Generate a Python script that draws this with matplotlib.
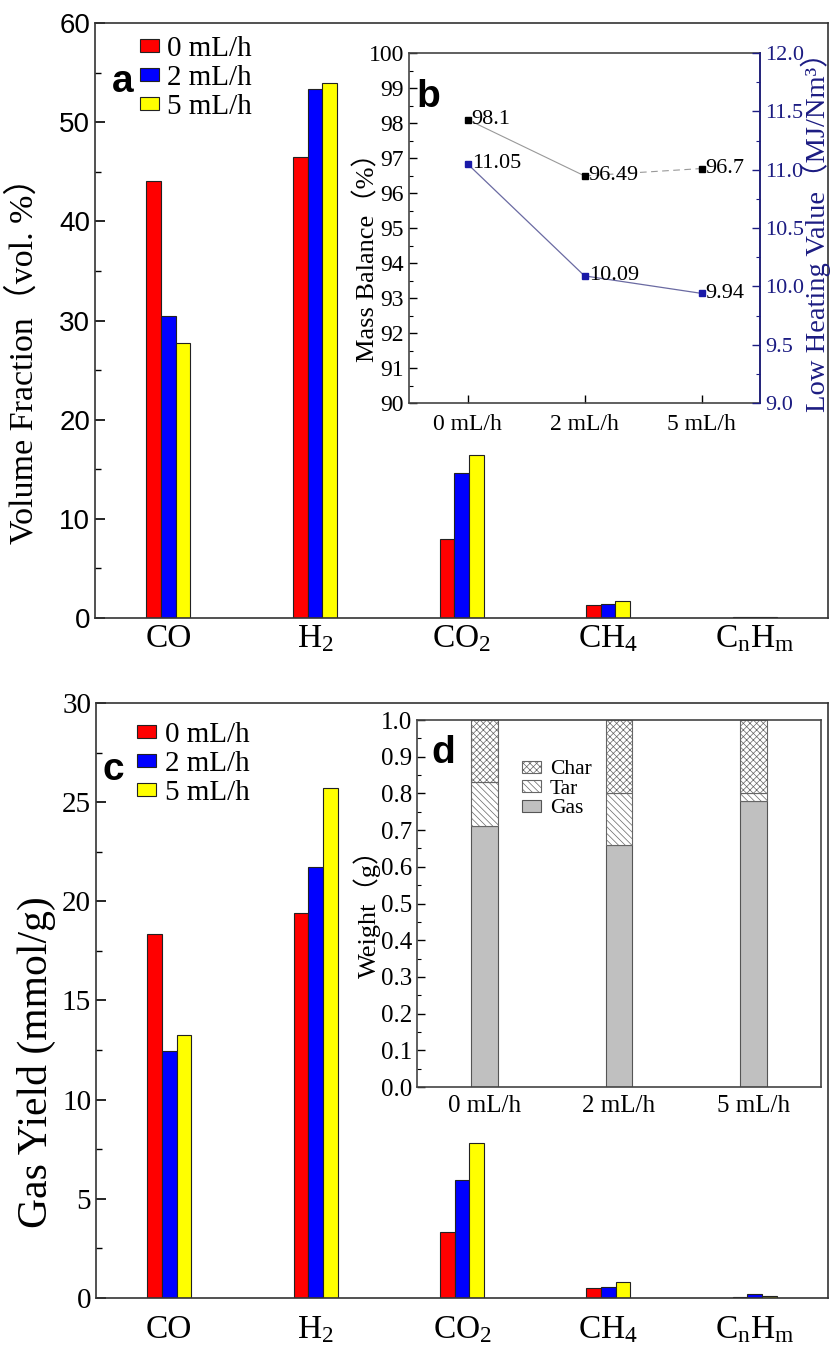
import numpy as np
import matplotlib
matplotlib.use("Agg")
import matplotlib.pyplot as plt
from matplotlib.ticker import MultipleLocator

plt.rcParams["mathtext.fontset"] = "custom"
plt.rcParams["mathtext.rm"] = "Liberation Serif"
plt.rcParams["mathtext.it"] = "Liberation Serif:italic"
plt.rcParams["hatch.linewidth"] = 0.5

SERIF = ["Liberation Serif", "Noto Sans CJK SC"]
SANS = ["Liberation Sans", "DejaVu Sans"]
NAVY = "#1c1c82"

# gas names and steam rates
gases = ["CO", "H$_2$", "CO$_2$", "CH$_4$", "C$_\\mathrm{n}$H$_\\mathrm{m}$"]
rates = ["0 mL/h", "2 mL/h", "5 mL/h"]
bar_colors = ["#ff0000", "#0000ff", "#ffff00"]

# (a) volume fraction, vol. %
vol_0 = [44.1, 46.5, 8.0, 1.3, 0.08]
vol_2 = [30.5, 53.3, 14.6, 1.4, 0.08]
vol_5 = [27.7, 53.9, 16.4, 1.7, 0.15]

# (b) mass balance (%) and low heating value (MJ/Nm3)
mass_balance = [98.1, 96.49, 96.7]
lhv = [11.05, 10.09, 9.94]

# (c) gas yield, mmol/g
yield_0 = [18.36, 19.4, 3.33, 0.52, 0.03]
yield_2 = [12.45, 21.75, 5.95, 0.55, 0.2]
yield_5 = [13.25, 25.73, 7.83, 0.81, 0.08]

# (d) product weights, g
gas_w = [0.71, 0.66, 0.78]
tar_w = [0.12, 0.14, 0.02]
char_w = [0.17, 0.20, 0.20]


def style_axes(ax, color="#333333"):
    for s in ax.spines.values():
        s.set_color(color)
        s.set_linewidth(1.2)


def gas_bars(ax, series):
    x = np.arange(len(gases))
    for k, vals in enumerate(series):
        ax.bar(x + (k - 1) * 0.1, vals, 0.1, color=bar_colors[k],
               edgecolor="#222222", linewidth=0.8, label=rates[k])
    ax.set_xlim(-0.5, 4.5)
    ax.set_xticks(x)
    ax.set_xticklabels(gases, family=SERIF, fontsize=24)
    ax.tick_params(axis="x", length=0, pad=4)
    ax.tick_params(axis="y", which="major", direction="in", length=7, width=1.2)
    ax.tick_params(axis="y", which="minor", direction="in", length=4, width=1.0)
    style_axes(ax)
    leg = ax.legend(loc="upper left", frameon=False, fontsize=21, handlelength=0.65,
                    handleheight=0.3, handletextpad=0.3, labelspacing=0.1,
                    borderpad=0, borderaxespad=0)
    for t in leg.get_texts():
        t.set_family(SERIF)
    return leg


fig = plt.figure(figsize=(8.3, 13.53), dpi=100)

# ---- panel a ----
ax_a = fig.add_axes([0.1145, 0.5432, 0.8831, 0.4398])
leg_a = gas_bars(ax_a, [vol_0, vol_2, vol_5])
leg_a.set_bbox_to_anchor((0.061, 0.978), transform=ax_a.transAxes)
ax_a.set_ylim(0, 60)
ax_a.yaxis.set_major_locator(MultipleLocator(10))
ax_a.yaxis.set_minor_locator(MultipleLocator(5))
for t in ax_a.get_yticklabels():
    t.set_family(SANS)
    t.set_fontsize(20)
ax_a.text(-0.097, 0.447, "Volume Fraction（vol. %）", transform=ax_a.transAxes,
          rotation=90, ha="center", va="center", family=SERIF, fontsize=24.5)
ax_a.text(0.038, 0.901, "a", transform=ax_a.transAxes, ha="center", va="center",
          family=SANS, fontsize=28, fontweight="bold")

# ---- panel b (inset) ----
ax_b = fig.add_axes([0.4928, 0.7021, 0.4229, 0.2587])
xb = np.arange(3)
ax_b.plot(xb[:2], mass_balance[:2], color="#999999", lw=0.8)
ax_b.plot(xb[1:], mass_balance[1:], color="#999999", lw=0.8, ls=(0, (6, 4)))
ax_b.plot(xb, mass_balance, ls="none", marker="s", ms=4, color="black")
for i, v in enumerate(mass_balance):
    ax_b.annotate(f"{v:g}", (xb[i], v), xytext=(3, 0), textcoords="offset points",
                  ha="left", va="center", family=SERIF, fontsize=16)
ax_b.set_xlim(-0.5, 2.5)
ax_b.set_ylim(90, 100)
ax_b.set_xticks(xb)
ax_b.set_xticklabels(rates, family=SERIF, fontsize=17)
ax_b.yaxis.set_major_locator(MultipleLocator(1))
ax_b.yaxis.set_minor_locator(MultipleLocator(0.5))
ax_b.tick_params(which="major", direction="in", length=6, width=1.0, labelsize=17)
ax_b.tick_params(which="minor", direction="in", length=3, width=0.8)
ax_b.tick_params(axis="x", pad=8)
for t in ax_b.get_yticklabels():
    t.set_family(SERIF)
style_axes(ax_b, "#444444")
ax_b.text(-0.12, 0.434, "Mass Balance（%）", transform=ax_b.transAxes, rotation=90,
          ha="center", va="center", family=SERIF, fontsize=19)
ax_b.text(0.054, 0.874, "b", transform=ax_b.transAxes, ha="center", va="center",
          family=SANS, fontsize=28, fontweight="bold")

ax_b2 = ax_b.twinx()
ax_b2.plot(xb, lhv, color="#6a6aa2", lw=0.9, marker="s", ms=4,
           mfc="#1a1aa8", mec="#1a1aa8")
for i, v in enumerate(lhv):
    ax_b2.annotate(f"{v:g}", (xb[i], v), xytext=(3, 0), textcoords="offset points",
                   ha="left", va="center", family=SERIF, fontsize=16)
ax_b2.set_ylim(9.0, 12.0)
ax_b2.yaxis.set_major_locator(MultipleLocator(0.5))
ax_b2.yaxis.set_minor_locator(MultipleLocator(0.25))
ax_b2.tick_params(which="major", direction="in", length=6, width=1.0, labelsize=16,
                  colors=NAVY)
ax_b2.tick_params(which="minor", direction="in", length=3, width=0.8, colors=NAVY)
for t in ax_b2.get_yticklabels():
    t.set_family(SERIF)
for s in ["left", "top", "bottom"]:
    ax_b2.spines[s].set_visible(False)
ax_b2.spines["right"].set_color(NAVY)
ax_b2.spines["right"].set_linewidth(1.2)
ax_b2.text(1.16, 0.509, "Low Heating Value（MJ/Nm³）", transform=ax_b2.transAxes,
           rotation=90, ha="center", va="center", family=SERIF, fontsize=20.5, color=NAVY)

# ---- panel c ----
ax_c = fig.add_axes([0.1157, 0.0407, 0.8819, 0.4397])
leg_c = gas_bars(ax_c, [yield_0, yield_2, yield_5])
leg_c.set_bbox_to_anchor((0.056, 0.968), transform=ax_c.transAxes)
ax_c.set_ylim(0, 30)
ax_c.yaxis.set_major_locator(MultipleLocator(5))
ax_c.yaxis.set_minor_locator(MultipleLocator(2.5))
for t in ax_c.get_yticklabels():
    t.set_family(SERIF)
    t.set_fontsize(21)
ax_c.tick_params(axis="x", pad=12)
ax_c.text(-0.082, 0.397, "Gas Yield (mmol/g)", transform=ax_c.transAxes,
          rotation=90, ha="center", va="center", family=SERIF, fontsize=30)
ax_c.text(0.023, 0.887, "c", transform=ax_c.transAxes, ha="center", va="center",
          family=SANS, fontsize=28, fontweight="bold")

# ---- panel d (inset) ----
ax_d = fig.add_axes([0.5024, 0.1966, 0.4867, 0.2712])
xd = np.arange(3)
tar_bottom = np.array(gas_w)
char_bottom = tar_bottom + np.array(tar_w)
b_gas = ax_d.bar(xd, gas_w, 0.2, color="#c0c0c0", edgecolor="#555555", lw=0.8,
                 label="Gas")
b_tar = ax_d.bar(xd, tar_w, 0.2, bottom=tar_bottom, color="white", edgecolor="#666666",
                 hatch="\\\\\\\\\\", lw=0.8, label="Tar")
b_char = ax_d.bar(xd, char_w, 0.2, bottom=char_bottom, color="white",
                  edgecolor="#666666", hatch="xxxxx", lw=0.8, label="Char")
ax_d.set_xlim(-0.5, 2.5)
ax_d.set_ylim(0, 1.0)
ax_d.set_xticks(xd)
ax_d.set_xticklabels(rates, family=SERIF, fontsize=18)
ax_d.tick_params(axis="x", length=0, pad=6)
ax_d.yaxis.set_major_locator(MultipleLocator(0.1))
ax_d.yaxis.set_minor_locator(MultipleLocator(0.05))
ax_d.tick_params(axis="y", which="major", direction="in", length=6, width=1.0, labelsize=18)
ax_d.tick_params(axis="y", which="minor", direction="in", length=3, width=0.8)
for t in ax_d.get_yticklabels():
    t.set_family(SERIF)
style_axes(ax_d, "#444444")
leg_d = ax_d.legend([b_char, b_tar, b_gas], ["Char", "Tar", "Gas"], loc="upper left",
                    bbox_to_anchor=(0.26, 0.89), frameon=False, fontsize=15.5,
                    handlelength=0.9, handleheight=0.5, handletextpad=0.4,
                    labelspacing=0.02, borderpad=0, borderaxespad=0)
for t in leg_d.get_texts():
    t.set_family(SERIF)
ax_d.text(-0.124, 0.49, "Weight（g）", transform=ax_d.transAxes, rotation=90,
          ha="center", va="center", family=SERIF, fontsize=19)
ax_d.text(0.064, 0.91, "d", transform=ax_d.transAxes, ha="center", va="center",
          family=SANS, fontsize=28, fontweight="bold")

fig.savefig("out.png", dpi=100)
